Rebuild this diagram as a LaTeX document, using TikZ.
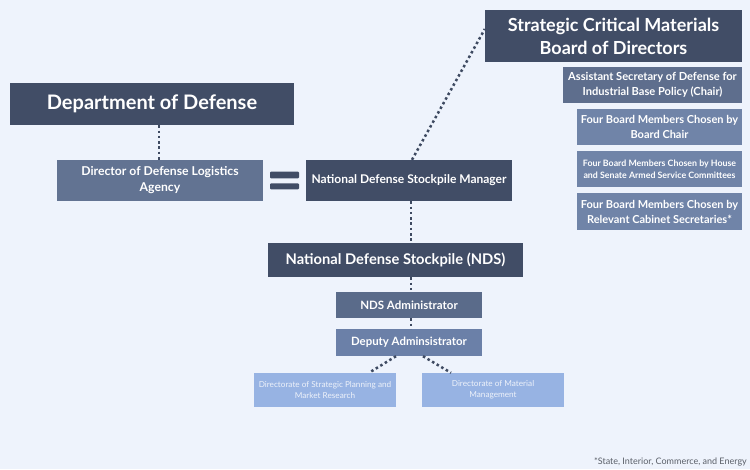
\documentclass[tikz,border=0pt]{standalone}
\usepackage{fontspec}
\setmainfont{Lato}
\definecolor{bg}{HTML}{EEF3FC}
\definecolor{dark}{HTML}{414D66}
\definecolor{dla}{HTML}{627392}
\definecolor{asst}{HTML}{5E6E8D}
\definecolor{admin}{HTML}{5A6B8A}
\definecolor{member}{HTML}{7084A8}
\definecolor{deputy}{HTML}{6B80A8}
\definecolor{dirc}{HTML}{97B3E3}
\definecolor{dirtext}{HTML}{EEF2FA}
\definecolor{dotc}{HTML}{3E4A61}
\definecolor{foot}{HTML}{5A5F68}
\tikzset{
  box/.style={inner sep=0pt, align=center, text=white, font=\bfseries},
  conn/.style={draw=dotc, line width=2.5pt, dash pattern=on 2.5pt off 2.8pt},
}
\begin{document}
\begin{tikzpicture}[x=1pt,y=-1pt]
\fill[bg] (0,0) rectangle (750,469);
\useasboundingbox (0,0) rectangle (750,469);
% main boxes
\node[box, fill=dark, minimum width=284pt, minimum height=42pt, font=\bfseries\fontsize{20}{22}\selectfont] (dod) at (152,104) {Department of Defense};
\node[box, fill=dla, minimum width=206pt, minimum height=41pt, font=\bfseries\fontsize{12.2}{16}\selectfont] (dla) at (160,180.5) {Director of Defense Logistics\\Agency};
\node[box, fill=dark, minimum width=206pt, minimum height=41pt, font=\bfseries\fontsize{12}{14}\selectfont] (mgr) at (409,180.5) {National Defense Stockpile Manager};
% equals sign
\fill[dark, rounded corners=1pt] (270,171.7) rectangle (299,178.3);
\fill[dark, rounded corners=1pt] (270,183.3) rectangle (299,189.3);
% board
\node[box, fill=dark, minimum width=257pt, minimum height=52pt, font=\bfseries\fontsize{18}{23}\selectfont] (board) at (613.5,36) {Strategic Critical Materials\\Board of Directors};
\node[box, fill=asst, minimum width=179pt, minimum height=36pt, font=\bfseries\fontsize{11.1}{15}\selectfont] (asst) at (652.5,85) {Assistant Secretary of Defense for\\Industrial Base Policy (Chair)};
\node[box, fill=member, minimum width=165pt, minimum height=36pt, font=\bfseries\fontsize{11}{15}\selectfont] (chair) at (659.5,127) {Four Board Members Chosen by\\Board Chair};
\node[box, fill=member, minimum width=165pt, minimum height=36pt, font=\bfseries\fontsize{8.8}{12}\selectfont] (house) at (659.5,169) {Four Board Members Chosen by House\\and Senate Armed Service Committees};
\node[box, fill=member, minimum width=165pt, minimum height=37pt, font=\bfseries\fontsize{11}{15}\selectfont] (cab) at (659.5,211.5) {Four Board Members Chosen by\\Relevant Cabinet Secretaries*};
% NDS
\node[box, fill=dark, minimum width=255pt, minimum height=34pt, font=\bfseries\fontsize{14.7}{18}\selectfont] (nds) at (395.5,260) {National Defense Stockpile (NDS)};
\node[box, fill=admin, minimum width=146pt, minimum height=26pt, font=\bfseries\fontsize{11.5}{13}\selectfont] (admin) at (409,305) {NDS Administrator};
\node[box, fill=deputy, minimum width=146pt, minimum height=27pt, font=\bfseries\fontsize{11.4}{13}\selectfont] (deputy) at (409,342.5) {Deputy Adminsistrator};
\node[box, fill=dirc, text=dirtext, minimum width=142pt, minimum height=34pt, font=\fontsize{8.2}{11}\selectfont] (dir1) at (325,390) {Directorate of Strategic Planning and\\Market Research};
\node[box, fill=dirc, text=dirtext, minimum width=142pt, minimum height=34pt, font=\fontsize{8.2}{11}\selectfont] (dir2) at (493,390) {Directorate of Material\\Management};
% footnote
\node[anchor=east, inner sep=0pt, text=foot, font=\fontsize{9}{10}\selectfont] (fn) at (747,462) {*State, Interior, Commerce, and Energy};
% connectors
\draw[conn] (dod.south -| 159,0) -- (dla.north -| 159,0);
\draw[conn] (mgr.south -| 411,0) -- (nds.north -| 411,0);
\draw[conn] (nds.south -| 411,0) -- (admin.north -| 411,0);
\draw[conn] (admin.south -| 411,0) -- (deputy.north -| 411,0);
\draw[conn] (mgr.north -| 412,0) -- (board.west |- 0,29);
\draw[conn] (deputy.south -| 396,0) -- (dir1.north -| 369,0);
\draw[conn] (deputy.south -| 423,0) -- (dir2.north -| 451,0);
\end{tikzpicture}
\end{document}
